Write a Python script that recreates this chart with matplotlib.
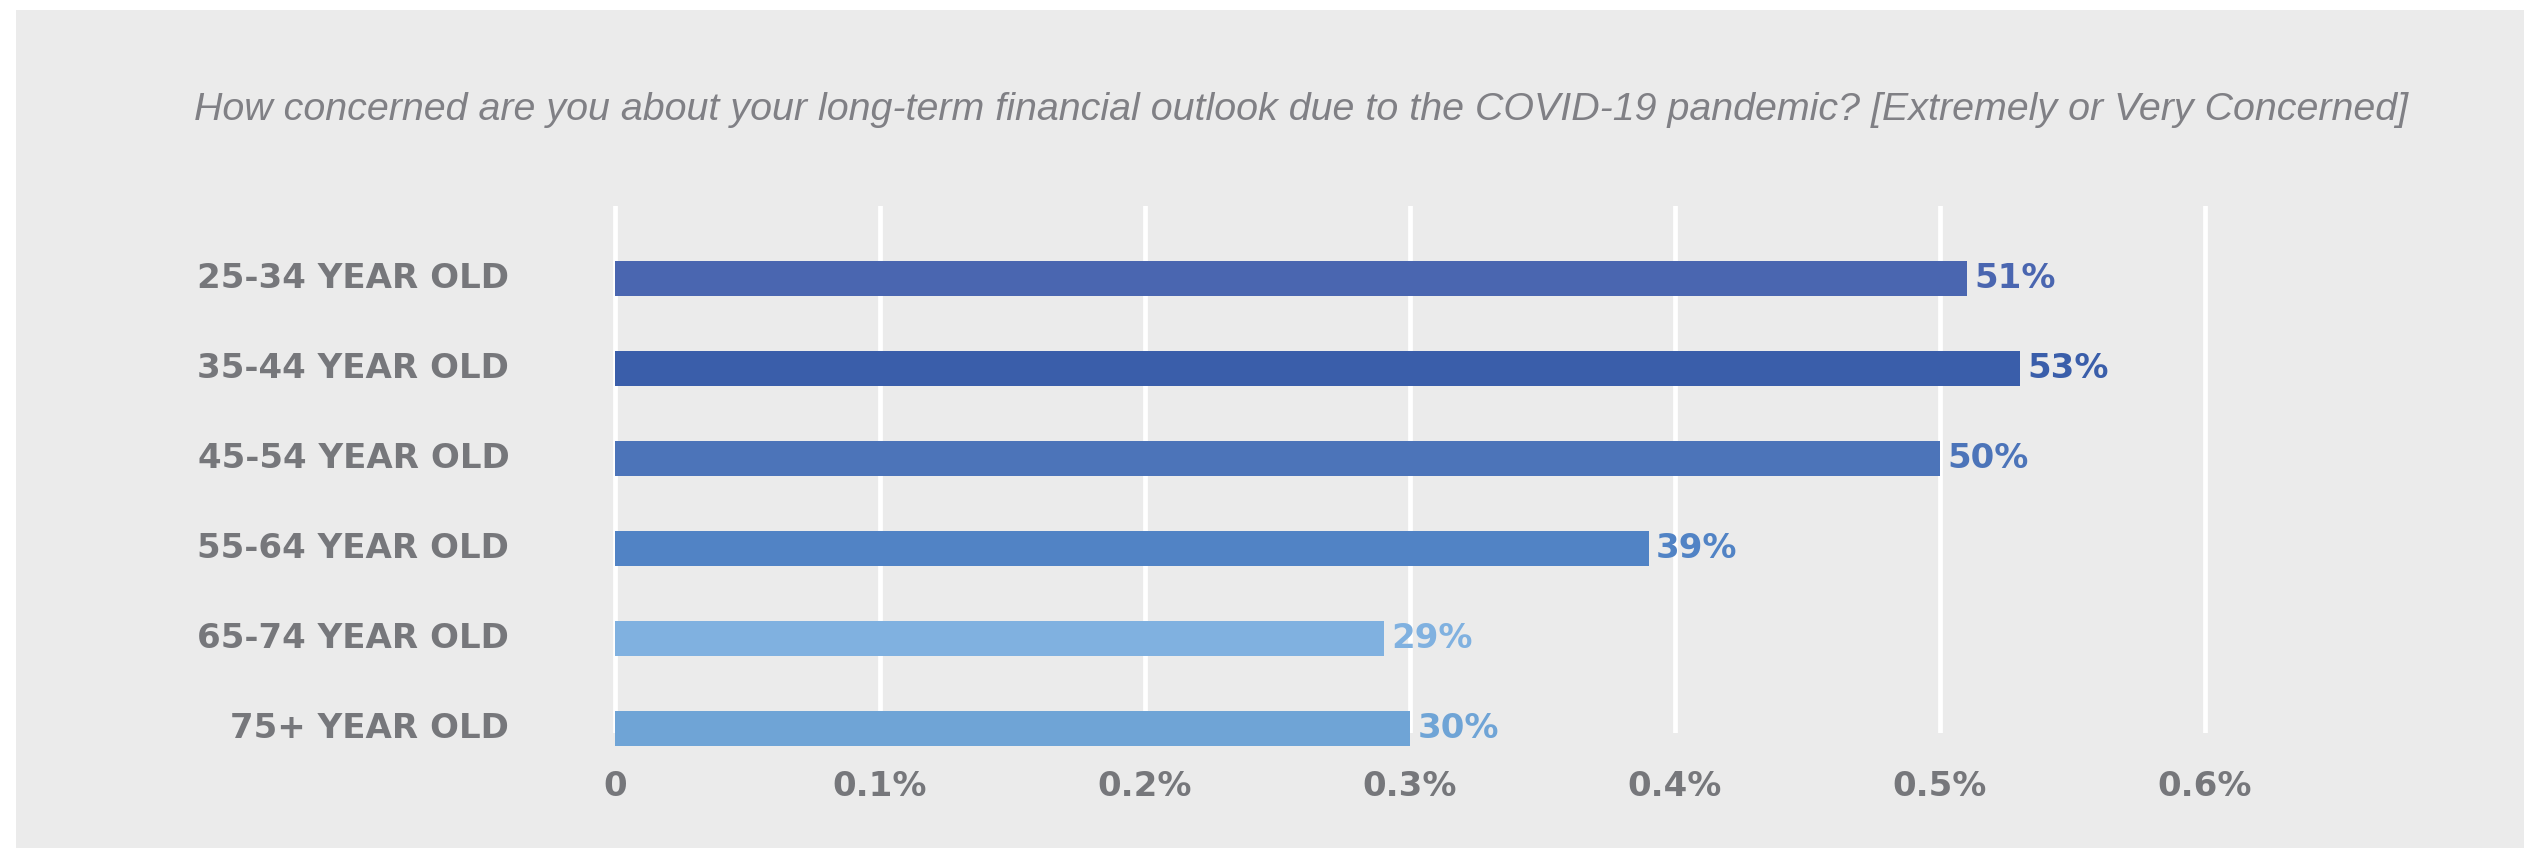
import matplotlib
matplotlib.use("Agg")
import matplotlib.pyplot as plt
from matplotlib.patches import Rectangle

categories = ["25-34 YEAR OLD", "35-44 YEAR OLD", "45-54 YEAR OLD",
              "55-64 YEAR OLD", "65-74 YEAR OLD", "75+ YEAR OLD"]
values = [0.51, 0.53, 0.50, 0.39, 0.29, 0.30]
value_labels = ["51%", "53%", "50%", "39%", "29%", "30%"]
bar_colors = ["#4a66b0", "#3a5eaa", "#4c74b9", "#5183c5", "#80b1e0", "#6fa4d6"]
xticks = [0, 0.1, 0.2, 0.3, 0.4, 0.5, 0.6]
xtick_labels = ["0", "0.1%", "0.2%", "0.3%", "0.4%", "0.5%", "0.6%"]
title = ("How concerned are you about your long-term financial outlook due to "
         "the COVID-19 pandemic? [Extremely or Very Concerned]")

W, H = 2524, 848
DPI = 100
BG = "#ebebeb"
GRAY = "#76777b"
FONT = "DejaVu Sans"
TFONT = "Liberation Sans"

fig = plt.figure(figsize=(W / DPI, H / DPI), dpi=DPI)
fig.patch.set_facecolor("white")
fig.patches.append(Rectangle((16 / W, 0), 1 - 16 / W, 1 - 10 / H,
                             transform=fig.transFigure, facecolor=BG,
                             edgecolor="none", zorder=-10))

x0_px, x1_px = 588.5, 2231.5
top_px, bot_px = 206, 733
ax = fig.add_axes([x0_px / W, 1 - bot_px / H, (x1_px - x0_px) / W, (bot_px - top_px) / H])
ax.set_facecolor("none")
ax.set_zorder(5)

ypos = list(range(len(categories)))
ax.barh(ypos, values, height=0.39, color=bar_colors, zorder=3, clip_on=False)
for y, v, lab, c in zip(ypos, values, value_labels, bar_colors):
    ax.text(v + 0.0028, y, lab, ha="left", va="center", color=c,
            fontsize=24.5, fontweight="bold", family=FONT, zorder=4)

ax.set_xlim(-0.01, 0.61)
ax.set_ylim(5.05, -0.806)
ax.set_xticks(xticks)
ax.set_xticklabels(xtick_labels)
ax.set_yticks(ypos)
ax.set_yticklabels(categories)
ax.grid(axis="x", color="white", linewidth=3.4, zorder=1)
ax.grid(axis="y", visible=False)
ax.set_axisbelow(True)
for s in ax.spines.values():
    s.set_visible(False)
ax.tick_params(axis="both", length=0)
ax.tick_params(axis="y", pad=57)
ax.tick_params(axis="x", pad=27)
for t in ax.get_xticklabels() + ax.get_yticklabels():
    t.set_fontfamily(FONT)
    t.set_fontweight("bold")
    t.set_fontsize(24.5)
    t.set_color(GRAY)
for t in ax.get_yticklabels():
    t.set_verticalalignment("center")

fig.text(1301 / W, 1 - 110 / H, title, ha="center", va="center",
         fontsize=28.4, style="italic", family=TFONT, color="#808085")

fig.savefig("out.png", dpi=DPI, facecolor=fig.get_facecolor())
